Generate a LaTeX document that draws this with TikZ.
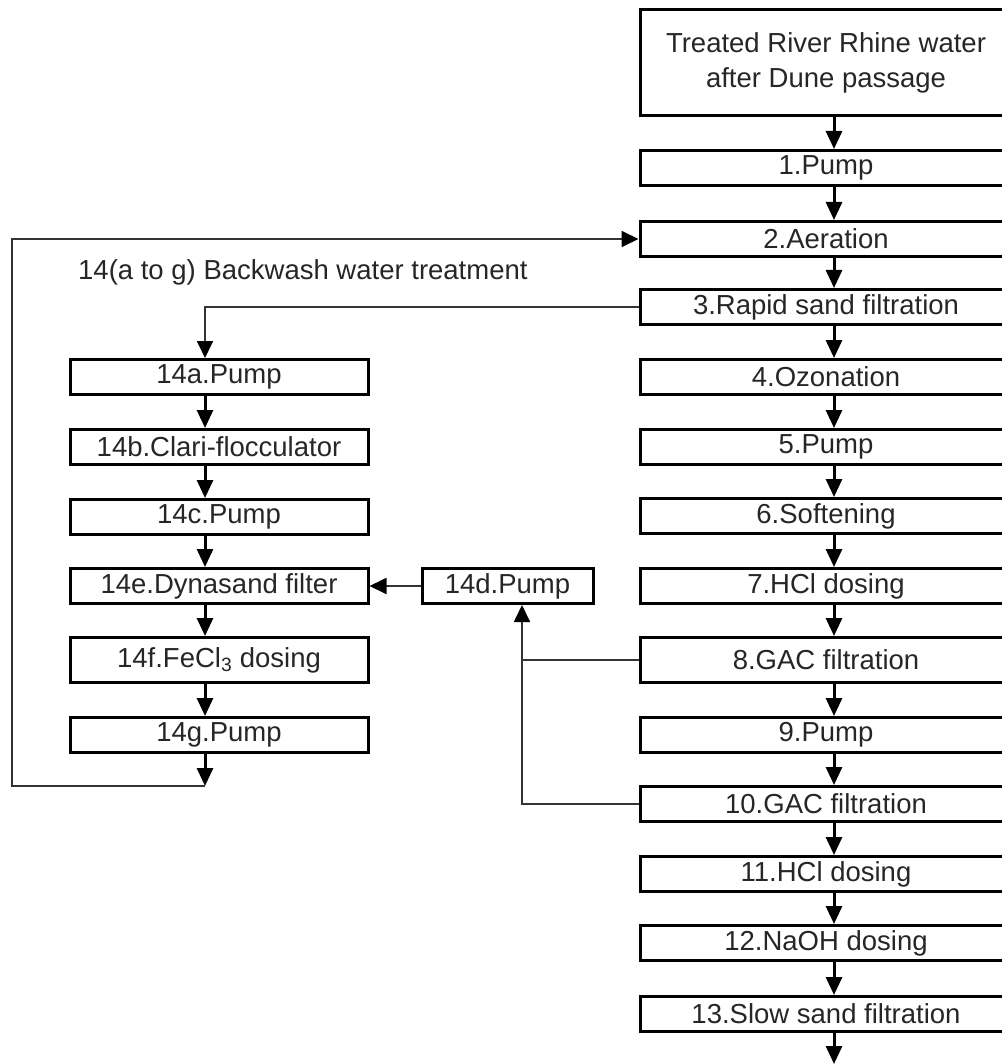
\documentclass[tikz,border=0pt]{standalone}
\usepackage{fontspec}
\setmainfont{Liberation Sans}
\usetikzlibrary{arrows.meta,calc}
\begin{document}
\begin{tikzpicture}[x=1pt,y=-1pt,
  txt/.style={font=\fontsize{27.5}{35}\selectfont, text=black!85},
  box/.style={txt, draw=black, line width=3pt, inner sep=0pt, minimum height=35pt},
  mainbox/.style={box, minimum width=372pt},
  sidebox/.style={box, minimum width=298pt},
  flow/.style={line width=3pt, draw=black, -{Triangle[length=18pt,width=16pt]}},
  thinline/.style={line width=1.8pt, draw=black!80},
  thinarrow/.style={thinline, -{Triangle[length=17pt,width=16pt,color=black]}}
]
\useasboundingbox (0,0) rectangle (1001,1064);

% main column (text centred at x=826, flow arrows at x=834)
\coordinate (mx) at (834,0);
\node[mainbox, minimum height=106pt, align=center] (src) at (826,63) {Treated River Rhine water\\after Dune passage};
\node[mainbox] (p1) at (826,168) {1.Pump};
\node[mainbox] (p2) at (826,239) {2.Aeration};
\node[mainbox] (p3) at (826,307) {3.Rapid sand filtration};
\node[mainbox] (p4) at (826,377) {4.Ozonation};
\node[mainbox] (p5) at (826,447) {5.Pump};
\node[mainbox] (p6) at (826,516) {6.Softening};
\node[mainbox] (p7) at (826,586) {7.HCl dosing};
\node[mainbox, minimum height=45pt] (p8) at (826,660) {8.GAC filtration};
\node[mainbox] (p9) at (826,735) {9.Pump};
\node[mainbox] (p10) at (826,804) {10.GAC filtration};
\node[mainbox] (p11) at (826,874) {11.HCl dosing};
\node[mainbox] (p12) at (826,943) {12.NaOH dosing};
\node[mainbox] (p13) at (826,1014) {13.Slow sand filtration};
\coordinate (out) at (834,1064);

\draw[flow] (src.south -| mx) -- (p1.north -| mx);
\draw[flow] (p1.south -| mx) -- (p2.north -| mx);
\draw[flow] (p2.south -| mx) -- (p3.north -| mx);
\draw[flow] (p3.south -| mx) -- (p4.north -| mx);
\draw[flow] (p4.south -| mx) -- (p5.north -| mx);
\draw[flow] (p5.south -| mx) -- (p6.north -| mx);
\draw[flow] (p6.south -| mx) -- (p7.north -| mx);
\draw[flow] (p7.south -| mx) -- (p8.north -| mx);
\draw[flow] (p8.south -| mx) -- (p9.north -| mx);
\draw[flow] (p9.south -| mx) -- (p10.north -| mx);
\draw[flow] (p10.south -| mx) -- (p11.north -| mx);
\draw[flow] (p11.south -| mx) -- (p12.north -| mx);
\draw[flow] (p12.south -| mx) -- (p13.north -| mx);
\draw[flow] (p13.south -| mx) -- (out);

% backwash column
\node[txt, anchor=west, inner sep=0pt] (title) at (78,272) {14(a to g) Backwash water treatment};
\coordinate (lx) at (205,0);
\coordinate (dx) at (522,0);
\node[sidebox] (a) at (219,377) {14a.Pump};
\node[sidebox] (b) at (219,447) {14b.Clari-flocculator};
\node[sidebox] (c) at (219,517) {14c.Pump};
\node[sidebox] (e) at (219,586) {14e.Dynasand filter};
\node[sidebox, minimum height=45pt] (f) at (219,660) {14f.FeCl\textsubscript{3} dosing};
\node[sidebox] (g) at (219,735) {14g.Pump};
\node[box, minimum width=171pt] (d) at (507.5,586) {14d.Pump};
\coordinate (bl) at (205,786);
\coordinate (cl) at (12,786);

\draw[flow] (a.south -| lx) -- (b.north -| lx);
\draw[flow] (b.south -| lx) -- (c.north -| lx);
\draw[flow] (c.south -| lx) -- (e.north -| lx);
\draw[flow] (e.south -| lx) -- (f.north -| lx);
\draw[flow] (f.south -| lx) -- (g.north -| lx);
\draw[flow] (g.south -| lx) -- (bl);

\draw[thinarrow] (bl) -- (cl) -- (cl |- p2.west) -- (p2.west);
\draw[thinarrow] (p3.west) -| (a.north -| lx);
\draw[thinarrow] (d.west) -- (e.east);
\draw[thinline] (p8.west) -- (p8.west -| dx);
\draw[thinarrow] (p10.west) -| (d.south -| dx);
\end{tikzpicture}
\end{document}
